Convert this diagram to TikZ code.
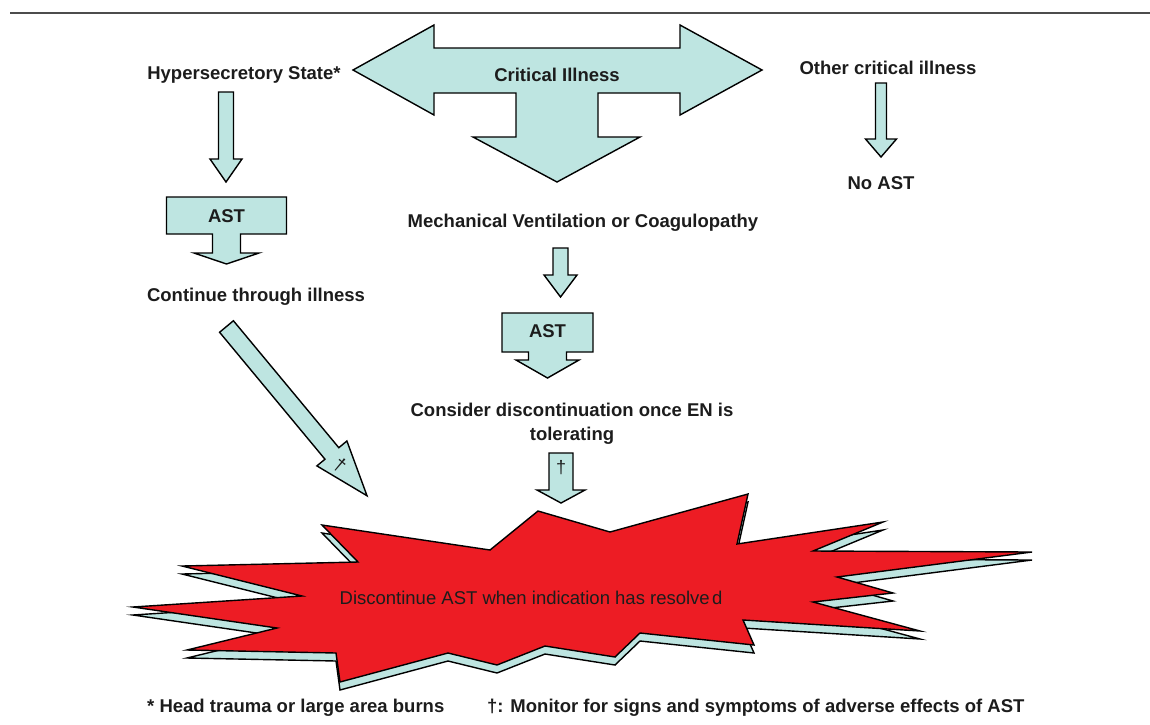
\documentclass[tikz,border=0pt]{standalone}
\usepackage{fontspec}
\setmainfont{Liberation Sans}
\usetikzlibrary{positioning}
\definecolor{paleteal}{RGB}{190,229,225}
\definecolor{burstred}{RGB}{237,28,36}
\definecolor{inkgray}{RGB}{28,28,28}
\newcommand\burstoutline{(322,525) -- (490,550) -- (538,511) -- (610,532) -- (748,494) -- (737,544)
  -- (883,522) -- (813,551) -- (1032,552) -- (837,577) -- (893,593) -- (813,602) -- (920,631)
  -- (743,620) -- (754,645) -- (640,633) -- (615,657) -- (545,646) -- (497,665) -- (448,653)
  -- (340,682) -- (336,653) -- (187,650) -- (277,628) -- (133,607) -- (302,596) -- (182,566)
  -- (358,562) -- cycle}

\begin{document}
\begin{tikzpicture}[x=1pt, y=-1pt, line join=miter,
  lbl/.style={font=\fontsize{18.5}{24}\selectfont\bfseries, text=inkgray, inner sep=0pt, align=center},
  blk/.style={draw=black, line width=1.4pt, fill=paleteal},
  pics/dnarrow/.style n args={4}{code={
    \draw[blk] (-#2,0) -- (#2,0) -- (#2,#1-#4) -- (#3,#1-#4) -- (0,#1) -- (-#3,#1-#4) -- (-#2,#1-#4) -- cycle;}},
  pics/callout/.style n args={6}{code={
    \draw[blk] (-#1,0) -- (#1,0) -- (#1,#2) -- (#3,#2) -- (#3,#2+#4) -- (#5,#2+#4) -- (0,#2+#4+#6)
      -- (-#5,#2+#4) -- (-#3,#2+#4) -- (-#3,#2) -- (-#1,#2) -- cycle;}}]
\useasboundingbox (0,0) rectangle (1150,724);
\draw[line width=1.5pt, black!70] (10,13) -- (1150,13);

% three way arrow
\draw[blk] (353,70) -- (434,25) -- (434,48) -- (680,48) -- (680,25) -- (762,70) -- (680,115)
  -- (680,93) -- (598,93) -- (598,137) -- (640,137) -- (557,182) -- (473,137) -- (516,137)
  -- (516,93) -- (434,93) -- (434,115) -- cycle;
\node[lbl] (crit) at (557,75) {Critical Illness};
\node[lbl] (hyper) at (244,75) {Hypersecretory State*};
\node[lbl] (other) at (888,68) {Other critical illness};

% left branch
\pic at (226,92) {dnarrow={90}{7.5}{16}{23}};
\pic at (226.5,197) {callout={60}{37}{14}{19}{32.5}{11}};
\node[lbl] (ast1) at (226.5,216) {AST};
\node[lbl] (cont) at (256,297) {Continue through illness};
\pic[rotate=39.7] at (226.5,326.5) {dnarrow={220}{9}{19.5}{55}};
\node[rotate=-40, inner sep=0pt, font=\fontsize{19}{19}\selectfont, text=inkgray] (dag1) at (340,465) {†};

% right branch
\pic at (881,83) {dnarrow={74}{5.5}{15.5}{18}};
\node[lbl] (noast) at (881,183) {No AST};

% middle branch
\node[lbl] (mech) at (583,223) {Mechanical Ventilation or Coagulopathy};
\pic at (560.5,248) {dnarrow={49}{7.5}{16.5}{22}};
\pic at (547.5,313) {callout={45.5}{39}{19}{8}{31.5}{18}};
\node[lbl] (ast2) at (547.5,331) {AST};
\node[lbl] (consider) at (572,424) {Consider discontinuation once EN is\\tolerating};
\pic at (561,453) {dnarrow={50}{12}{24}{13}};
\node[inner sep=0pt, font=\fontsize{18}{18}\selectfont, text=inkgray] (dag2) at (561,468) {†};

% burst
\draw[blk, shift={(0,8)}] \burstoutline;
\draw[draw=black, line width=1.4pt, fill=burstred] \burstoutline;
\node[inner sep=0pt, font=\fontsize{18.5}{24}\selectfont, text=inkgray] (resolve) at (531,598)
  {Discontinue AST when indication has resolve\hspace{0.12em}d};

% footnotes
\node[lbl, anchor=west] (foot1) at (147,708) {* Head trauma or large area burns};
\node[lbl, anchor=west] (foot2) at (487,708) {†: Monitor for signs and symptoms of adverse effects of AST};
\end{tikzpicture}
\end{document}
